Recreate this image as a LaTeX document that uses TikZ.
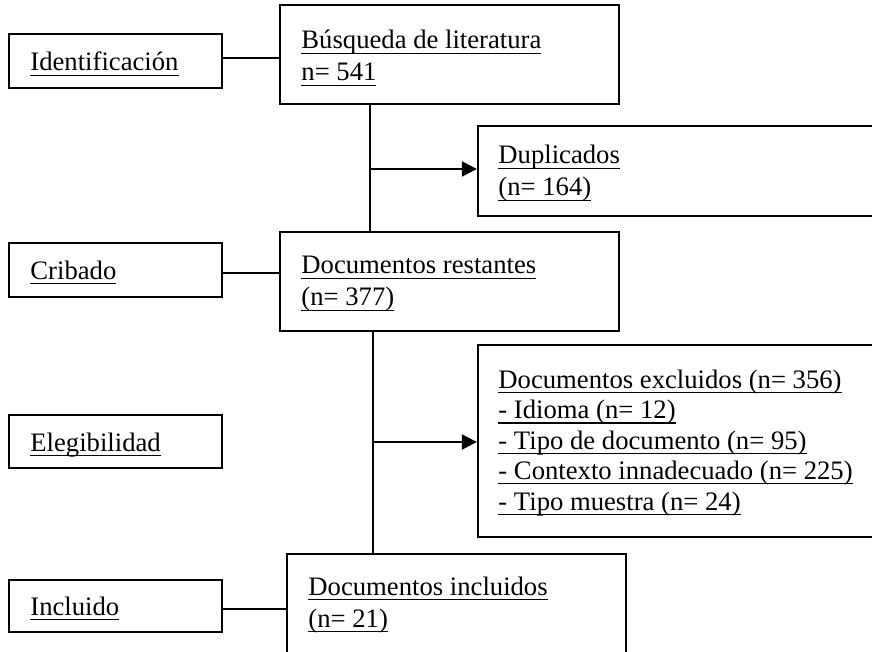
\documentclass[tikz,border=0pt]{standalone}
\usepackage{fontspec}
\setmainfont{Liberation Serif}
\usetikzlibrary{arrows.meta,fit}
\newcommand\myul[1]{\setbox0\hbox{#1}\rlap{\rule[-2.2pt]{\wd0}{0.6pt}}\box0}
\begin{document}
\begin{tikzpicture}[x=0.45pt,y=-0.45pt,
  box/.style={draw, line width=1.05pt, inner sep=0pt},
  txt/.style={anchor=base west, inner sep=0pt, align=left, font=\fontsize{12}{14.4}\selectfont},
  conn/.style={line width=1.05pt},
  arr/.style={conn, -{Triangle[length=6.75pt,width=6.75pt]}}]
\useasboundingbox (0,0) rectangle (872,652);
\clip (0,0) rectangle (872,652);
% boxes
\node[box, fit={(9,34) (222,88)}] (id) {};
\node[box, fit={(9,243) (222,297)}] (cri) {};
\node[box, fit={(9,415) (222,468)}] (ele) {};
\node[box, fit={(9,580) (222,632)}] (inc) {};
\node[box, fit={(280,5) (619,104)}] (bus) {};
\node[box, fit={(478,126) (890,216)}] (dup) {};
\node[box, fit={(280,232) (619,331)}] (res) {};
\node[box, fit={(478,345) (890,537)}] (exc) {};
\node[box, fit={(287,554) (626,670)}] (incl) {};
% texts (multi-line nodes anchored at the baseline of their last line)
\node[txt] (tid) at (30,71) {\myul{Identificación}};
\node[txt] (tcri) at (30,279) {\myul{Cribado}};
\node[txt] (tele) at (30,451) {\myul{Elegibilidad}};
\node[txt] (tinc) at (30,615) {\myul{Incluido}};
\node[txt] (tbus) at (301,81) {\myul{Búsqueda de literatura}\\\myul{n= 541}};
\node[txt] (tdup) at (498,196) {\myul{Duplicados}\\\myul{(n= 164)}};
\node[txt] (tres) at (301,306) {\myul{Documentos restantes}\\\myul{(n= 377)}};
\node[txt, font=\fontsize{12}{13.7}\selectfont] (texc) at (498,510) {\myul{Documentos excluidos (n= 356)}\\\myul{- Idioma (n= 12)}\\\myul{- Tipo de documento (n= 95)}\\\myul{- Contexto innadecuado (n= 225)}\\\myul{- Tipo muestra (n= 24)}};
\node[txt] (tincl) at (308,627) {\myul{Documentos incluidos}\\\myul{(n= 21)}};
% connectors
\coordinate (h1) at (222,58);
\coordinate (h2) at (222,273);
\coordinate (h3) at (222,609);
\draw[conn] (h1) -- (h1 -| bus.west);
\draw[conn] (h2) -- (h2 -| res.west);
\draw[conn] (h3) -- (h3 -| incl.west);
\coordinate (v1) at (370,169);
\coordinate (v2) at (373,442);
\draw[conn] (v1 |- bus.south) -- (v1 |- res.north);
\draw[arr] (v1) -- (v1 -| dup.west);
\draw[conn] (v2 |- res.south) -- (v2 |- incl.north);
\draw[arr] (v2) -- (v2 -| exc.west);
\end{tikzpicture}
\end{document}
